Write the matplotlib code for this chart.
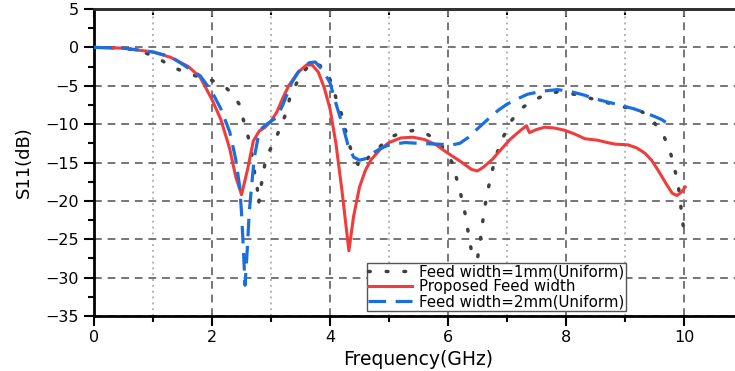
import matplotlib
matplotlib.use("Agg")
import matplotlib.pyplot as plt
import matplotlib.ticker as mticker

plt.rcParams["font.family"] = ["DejaVu Sans"]

# Feed width = 1 mm (uniform)
freq_1mm = [0, 0.5, 0.8, 1.06, 1.34, 1.6, 1.8, 2.0, 2.2, 2.34, 2.47, 2.53, 2.6, 2.65,
            2.7, 2.73, 2.77, 2.79, 2.82, 2.86, 2.9, 2.98, 3.1, 3.19, 3.27, 3.32, 3.45,
            3.54, 3.65, 3.75, 3.85, 3.97, 4.05, 4.12, 4.2, 4.31, 4.4, 4.51, 4.6, 4.7,
            4.85, 5.02, 5.25, 5.44, 5.6, 5.73, 5.9, 6.07, 6.2, 6.3, 6.36, 6.42, 6.5,
            6.55, 6.6, 6.65, 6.72, 6.8, 6.9, 7.08, 7.25, 7.47, 7.65, 7.85, 8.0, 8.2,
            8.54, 8.9, 9.29, 9.45, 9.55, 9.65, 9.72, 9.78, 9.84, 9.9, 9.94, 9.97, 10.0]
s11_1mm = [0, -0.1, -0.5, -1.3, -2.6, -3.4, -3.9, -4.3, -5.0, -6.0, -7.5, -9.4, -11.2, -13.0,
           -15.0, -16.9, -18.5, -20.4, -18.5, -16.9, -15.0, -13.4, -11.5, -9.9, -8.2, -6.5, -4.4,
           -3.2, -2.4, -1.9, -2.5, -3.6, -5.2, -7.1, -8.8, -12.3, -14.3, -15.7, -14.8, -13.9,
           -12.9, -11.7, -11.0, -10.8, -11.1, -11.7, -12.9, -15.0, -18.6, -22.0, -25.0, -27.4, -27.5,
           -25.0, -22.0, -19.6, -17.0, -14.5, -12.2, -9.5, -7.9, -6.8, -6.2, -5.8, -5.9, -6.2,
           -6.9, -7.6, -8.4, -9.3, -10.4, -11.4, -12.7, -14.0, -15.8, -17.8, -20.3, -22.3, -24.0]

# Proposed feed width
freq_prop = [0, 0.5, 1.0, 1.3, 1.6, 1.8, 2.0, 2.15, 2.3, 2.4, 2.5, 2.6, 2.7, 2.8, 2.9, 3.0,
             3.1, 3.2, 3.3, 3.45, 3.6, 3.7, 3.8, 3.9, 4.0, 4.1, 4.2, 4.32, 4.4, 4.5, 4.6,
             4.7, 4.85, 5.0, 5.2, 5.4, 5.6, 5.8, 6.0, 6.2, 6.4, 6.5, 6.6, 6.75, 6.9, 7.05,
             7.2, 7.33, 7.38, 7.5, 7.64, 7.8, 7.98, 8.15, 8.32, 8.54, 8.7, 8.83, 9.05, 9.2,
             9.34, 9.45, 9.56, 9.7, 9.8, 9.88, 9.95, 10.02]
s11_prop = [0, -0.1, -0.6, -1.3, -2.5, -3.9, -6.8, -9.4, -13.2, -16.8, -19.2, -16.0, -12.2,
            -10.9, -10.4, -9.6, -8.4, -6.6, -5.0, -3.3, -2.3, -2.3, -3.2, -5.2, -8.0, -12.5,
            -18.5, -26.5, -22.0, -18.2, -16.0, -14.6, -13.3, -12.4, -11.8, -11.7, -12.0,
            -12.7, -13.8, -14.8, -15.9, -16.1, -15.6, -14.6, -13.3, -12.0, -11.0, -10.2,
            -11.1, -10.7, -10.4, -10.5, -10.8, -11.3, -11.9, -12.1, -12.4, -12.6, -12.7,
            -13.1, -13.8, -14.7, -16.0, -17.8, -19.0, -19.3, -18.9, -18.2]

# Feed width = 2 mm (uniform)
freq_2mm = [0, 0.5, 1.0, 1.3, 1.5, 1.8, 2.0, 2.15, 2.3, 2.4, 2.47, 2.5, 2.53, 2.56, 2.6,
            2.63, 2.68, 2.72, 2.78, 2.85, 2.95, 3.1, 3.2, 3.35, 3.5, 3.65, 3.75, 3.88,
            4.0, 4.1, 4.22, 4.3, 4.4, 4.5, 4.6, 4.7, 4.85, 5.0, 5.27, 5.5, 5.8, 6.07,
            6.2, 6.35, 6.5, 6.7, 6.85, 7.0, 7.15, 7.35, 7.6, 7.86, 8.1, 8.3, 8.54, 8.75,
            8.95, 9.15, 9.3, 9.5, 9.62, 9.72]
s11_2mm = [0, -0.1, -0.6, -1.2, -2.2, -3.7, -5.8, -8.0, -11.0, -14.5, -18.2, -21.5, -26.0,
           -31.0, -26.0, -21.6, -17.3, -14.2, -11.8, -10.5, -9.9, -9.1, -7.5, -4.6, -2.8,
           -2.0, -1.9, -3.0, -4.6, -7.3, -10.3, -12.6, -14.3, -14.7, -14.5, -13.9, -13.2,
           -12.7, -12.4, -12.5, -12.6, -12.7, -12.5, -11.7, -10.6, -9.2, -8.2, -7.4, -6.8,
           -6.1, -5.7, -5.5, -5.8, -6.2, -6.8, -7.2, -7.6, -8.0, -8.4, -9.0, -9.4, -9.9]

labels = ["Feed width=1mm(Uniform)", "Proposed Feed width", "Feed width=2mm(Uniform)"]

fig = plt.figure(figsize=(7.35, 3.71), dpi=100)
# axes run a little past the right edge of the picture, as in the original
ax = fig.add_axes([0.1279, 0.1482, 0.8830, 0.8275])

ax.plot(freq_1mm, s11_1mm, color="#404040", lw=2.5, linestyle=(0, (0.5, 4.6)),
        dash_capstyle="round", label=labels[0], zorder=3)
ax.plot(freq_prop, s11_prop, color="#f03c3c", lw=2.2, label=labels[1], zorder=4)
ax.plot(freq_2mm, s11_2mm, color="#1a6fe0", lw=2.3, linestyle=(0, (5.5, 3.0)),
        label=labels[2], zorder=5)

ax.set_xlim(0, 11)
ax.set_ylim(-35, 5)
ax.xaxis.set_major_locator(mticker.MultipleLocator(2))
ax.xaxis.set_minor_locator(mticker.MultipleLocator(1))
ax.yaxis.set_major_locator(mticker.MultipleLocator(5))
ax.yaxis.set_minor_locator(mticker.MultipleLocator(2.5))

ax.grid(True, which="major", color="#757575", lw=1.4, linestyle=(0, (4, 3)))
ax.grid(True, which="minor", axis="x", color="#b4b4b4", lw=1.4, linestyle=(0, (1, 2)))
ax.set_axisbelow(True)

ax.tick_params(which="both", direction="out", top=False, right=False, width=1.5,
               labelsize=11.5)
ax.tick_params(which="major", length=7)
ax.tick_params(which="minor", length=4)
ax.tick_params(axis="y", pad=4)
ax.tick_params(axis="x", pad=3)

# ticks along the top edge point inward
top = ax.secondary_xaxis("top")
top.xaxis.set_major_locator(mticker.MultipleLocator(2))
top.xaxis.set_minor_locator(mticker.MultipleLocator(1))
top.tick_params(which="both", direction="in", width=1.5, labeltop=False)
top.tick_params(which="major", length=6)
top.tick_params(which="minor", length=4)
top.spines["top"].set_linewidth(2)
top.spines["top"].set_color("#303030")

for side in ["left", "bottom", "top"]:
    ax.spines[side].set_linewidth(2)
    ax.spines[side].set_color("black")
ax.spines["top"].set_color("#303030")
ax.spines["right"].set_visible(False)

ax.set_xlabel("Frequency(GHz)", fontsize=13.5, labelpad=4)
ax.set_ylabel("S11(dB)", fontsize=13, labelpad=9)

leg = ax.legend(loc="upper left", bbox_to_anchor=(0.499, 0.292),
                bbox_transform=fig.transFigure, borderaxespad=0, fontsize=10.8,
                frameon=True, fancybox=False, edgecolor="#555555", framealpha=1,
                handlelength=2.9, handletextpad=0.5, labelspacing=0.0, borderpad=0.1)
leg.get_frame().set_linewidth(1.0)

fig.savefig("out.png", dpi=100)
